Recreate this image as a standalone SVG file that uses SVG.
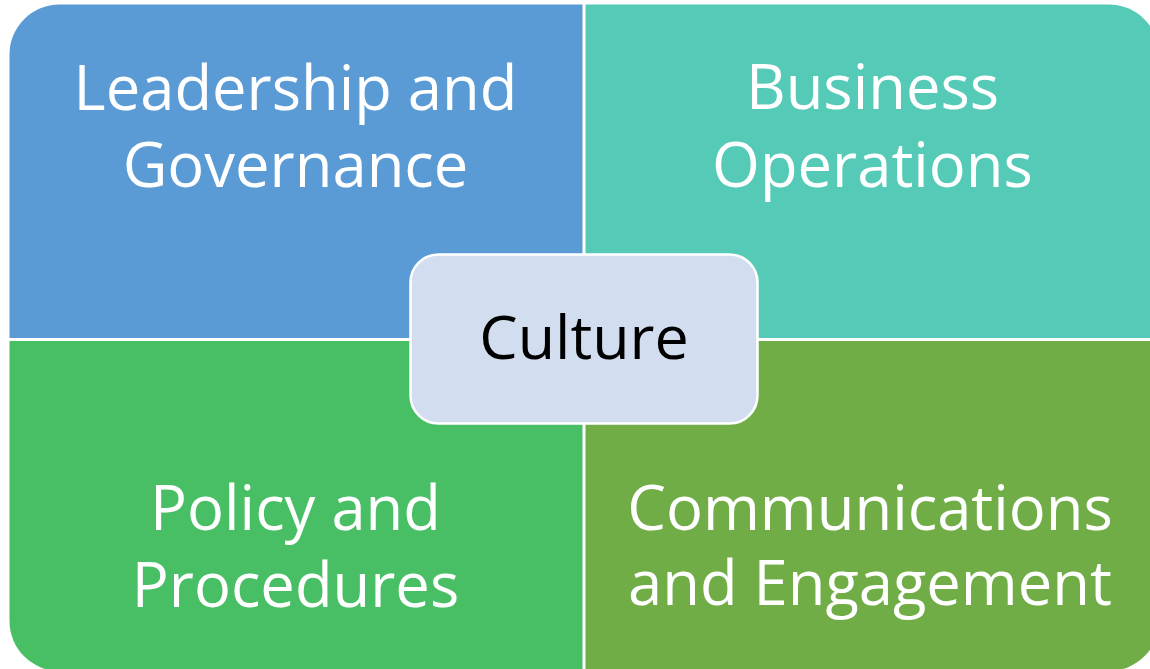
<svg xmlns="http://www.w3.org/2000/svg" width="1150" height="669" viewBox="0 0 1150 669">
  <style>
    .label { font-family: "Open Sans", "Noto Sans", sans-serif; font-size: 61px; text-anchor: middle; }
    .quad-text { fill: #FFFFFF; font-size: 61.5px; }
    .hub-text { fill: #000000; }
  </style>
  <rect width="1150" height="669" fill="#FFFFFF"/>

  <!-- top-left quadrant -->
  <g id="leadership-governance">
    <path d="M9.5,54.5 A50,50 0 0 1 59.5,4.5 L582.5,4.5 L582.5,338 L9.5,338 Z" fill="#5A9BD5"/>
    <text class="label quad-text" x="295.5" y="110">Leadership and</text>
    <text class="label quad-text" x="295.5" y="187">Governance</text>
  </g>

  <!-- top-right quadrant -->
  <g id="business-operations">
    <path d="M585.5,4.5 L1109,4.5 A50,50 0 0 1 1159,54.5 L1159,338 L585.5,338 Z" fill="#54CAB7"/>
    <text class="label quad-text" x="872.5" y="109">Business</text>
    <text class="label quad-text" x="872.5" y="187">Operations</text>
  </g>

  <!-- bottom-left quadrant -->
  <g id="policy-procedures">
    <path d="M9.5,341 L582.5,341 L582.5,671 L59.5,671 A50,50 0 0 1 9.5,621 Z" fill="#49BF65"/>
    <text class="label quad-text" x="295.5" y="530">Policy and</text>
    <text class="label quad-text" x="295.5" y="607">Procedures</text>
  </g>

  <!-- bottom-right quadrant -->
  <g id="communications-engagement">
    <path d="M585.5,341 L1159,341 L1159,621 A50,50 0 0 1 1109,671 L585.5,671 Z" fill="#70AD47"/>
    <text class="label quad-text" x="870" y="530">Communications</text>
    <text class="label quad-text" x="870" y="605">and Engagement</text>
  </g>

  <!-- no connectors in this layout -->
  <g id="connectors"/>

  <!-- central hub -->
  <g id="culture">
    <rect x="410.5" y="254.5" width="347" height="169" rx="28" ry="28" fill="#D2DEF0" stroke="#FFFFFF" stroke-width="2.5"/>
    <text class="label hub-text" x="584" y="359">Culture</text>
  </g>
</svg>
